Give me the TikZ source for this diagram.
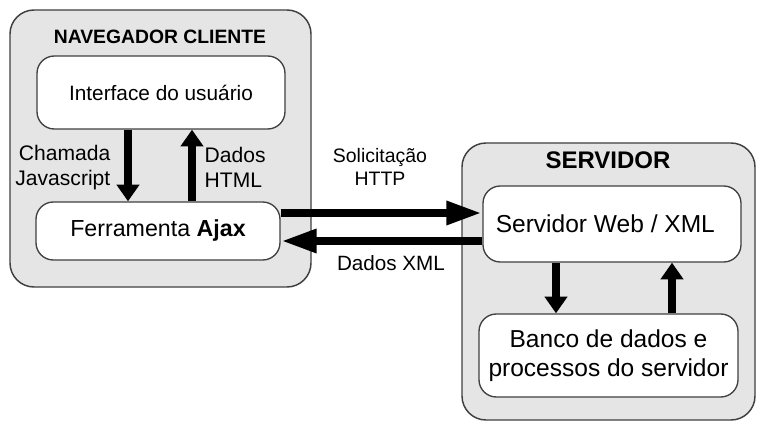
\documentclass[tikz,border=0pt]{standalone}
\usepackage{fontspec}
\setmainfont{Liberation Sans}
\usetikzlibrary{arrows.meta, positioning}

\tikzset{
  outerbox/.style={draw=black!75, line width=1.1pt, fill=black!10, rounded corners=18pt},
  innerbox/.style={draw=black!75, line width=1pt, fill=white, rounded corners=13pt,
    align=center, inner sep=0pt},
  vflow/.style={line width=6.5pt, -{Triangle[width=16.5pt,length=12.5pt]}},
  hflow/.style={line width=6.5pt, -{Triangle[width=16.5pt,length=27pt]}},
  lbl/.style={font=\fontsize{15.8}{18.75}\selectfont},
  smalllbl/.style={font=\fontsize{14.6}{17.25}\selectfont, align=center}
}

\begin{document}
\begin{tikzpicture}[x=0.75pt,y=-0.75pt]
\useasboundingbox (0,0) rectangle (765,428);
\fill[white] (0,0) rectangle (765,428);

% containers
\draw[outerbox] (10,10) rectangle (311,287);
\draw[outerbox] (462,143) rectangle (755,420);
\node[font=\bfseries\fontsize{14.5}{17}\selectfont] (cliente) at (160,37) {NAVEGADOR CLIENTE};
\node[font=\bfseries\fontsize{18}{21}\selectfont] (servidor) at (608,160) {SERVIDOR};

% boxes
\node[innerbox, minimum width=186pt, minimum height=54.75pt, font=\fontsize{15.6}{18}\selectfont] (ui) at (161,92.5) {Interface do usuário};
\node[innerbox, minimum width=183pt, minimum height=43.5pt, font=\fontsize{17.4}{20}\selectfont] (ajax) at (158,231) {Ferramenta \textbf{Ajax}};
\node[innerbox, minimum width=193.5pt, minimum height=57pt, font=\fontsize{18.4}{21.75}\selectfont] (web) at (612,224) {Servidor Web / XML\hspace*{10pt}};
\node[innerbox, minimum width=194.25pt, minimum height=62.25pt, font=\fontsize{18.4}{21.75}\selectfont] (db) at (608.5,355.5) {Banco de dados e\\processos do servidor};

% client arrows
\draw[vflow] ([xshift=-24.75pt]ui.south) -- ([xshift=-24.75pt]ui.south |- ajax.north);
\draw[vflow] ([xshift=23.25pt]ui.south |- ajax.north) -- ([xshift=23.25pt]ui.south);
\node[lbl, align=right, anchor=east] (chamada) at (115,167.5) {Chamada\\Javascript};
\node[lbl, align=left, anchor=west] (html) at (200,167.5) {Dados\\HTML};

% http
\draw[hflow] ([yshift=13.5pt]ajax.east) -- ([yshift=13.5pt]ajax.east -| web.west);
\draw[hflow] ([yshift=-7.5pt]ajax.east -| web.west) -- ([yshift=-7.5pt]ajax.east);
\node[smalllbl] (pedido) at (380,166.5) {Solicitação\\HTTP};
\node[smalllbl, font=\fontsize{15.5}{18}\selectfont] (xml) at (391,263) {Dados XML};

% server arrows
\draw[vflow] ([xshift=-42pt]web.south) -- ([xshift=-42pt]web.south |- db.north);
\draw[vflow] ([xshift=45pt]web.south |- db.north) -- ([xshift=45pt]web.south);
\end{tikzpicture}
\end{document}
